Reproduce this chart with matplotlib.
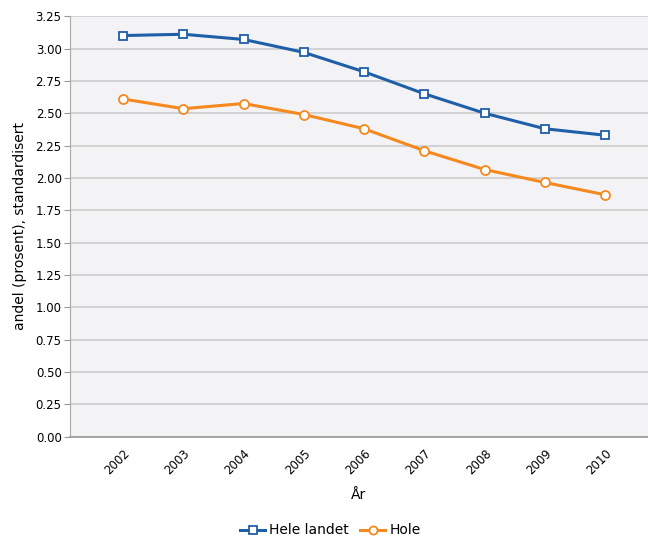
import matplotlib.pyplot as plt

years = [2002, 2003, 2004, 2005, 2006, 2007, 2008, 2009, 2010]
hele_landet = [3.10, 3.11, 3.07, 2.97, 2.82, 2.65, 2.50, 2.38, 2.33]
hole = [2.61, 2.535, 2.575, 2.49, 2.38, 2.21, 2.065, 1.965, 1.87]
yticks = [0.0, 0.25, 0.5, 0.75, 1.0, 1.25, 1.5, 1.75, 2.0, 2.25, 2.5, 2.75, 3.0, 3.25]

blue = '#1f5fa8'
orange = '#f5891f'

fig = plt.figure(figsize=(6.48, 5.38), dpi=100)
ax = fig.add_axes([0.108, 0.188, 0.892, 0.782])
ax.set_facecolor('#f3f3f6')

ax.plot(years, hele_landet, color=blue, lw=2.2, marker='s', ms=6.2,
        mfc='white', mec=blue, mew=1.3, label='Hele landet', zorder=3)
ax.plot(years, hole, color=orange, lw=2.2, marker='o', ms=6.5,
        mfc='white', mec=orange, mew=1.3, label='Hole', zorder=3)

ax.set_xlim(2001.12, 2010.71)
ax.set_ylim(0, 3.25)
ax.set_yticks(yticks)
ax.set_yticklabels(['%.2f' % v for v in yticks], fontsize=8.5)
ax.set_xticks(years)
ax.set_xticklabels([str(y) for y in years], rotation=45, fontsize=8.5,
                   ha='right', va='top', rotation_mode='anchor')
ax.tick_params(axis='x', length=0, pad=7)
ax.tick_params(axis='y', length=4, color='#999999', pad=2)

ax.yaxis.grid(True, color='#cccccc', lw=1.2)
ax.set_axisbelow(True)
for s in ['top', 'right']:
    ax.spines[s].set_visible(False)
ax.spines['left'].set_color('#aaaaaa')
ax.spines['bottom'].set_color('#999999')
ax.spines['bottom'].set_linewidth(1.2)

ax.set_xlabel('År', fontsize=10, labelpad=8)
ax.set_ylabel('andel (prosent), standardisert', fontsize=10, labelpad=6)

fig.legend(loc='center', bbox_to_anchor=(0.51, 0.014), ncol=2, frameon=False,
           fontsize=10, handlelength=1.8, columnspacing=0.8, handletextpad=0.3,
           markerscale=0.9)

fig.savefig('out.png', dpi=100)
